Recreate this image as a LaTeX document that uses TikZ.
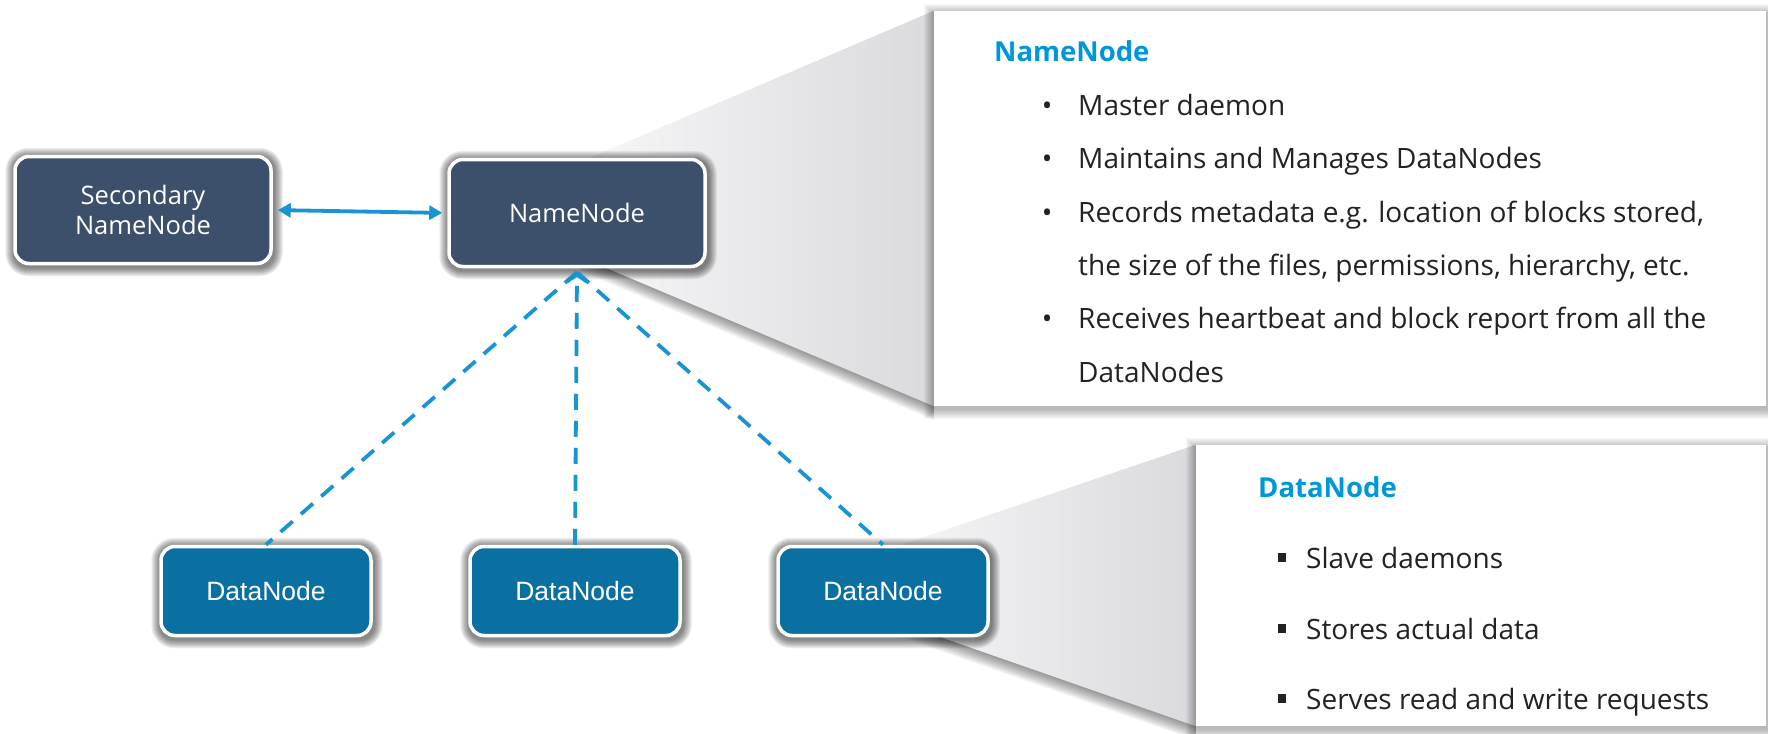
\documentclass[tikz,border=0pt]{standalone}
\usepackage{fontspec}
\setmainfont{Open Sans}
\newfontfamily\arialfont{Liberation Sans}
\usetikzlibrary{arrows.meta,calc}

\definecolor{nodeslate}{HTML}{3C4F6B}
\definecolor{nodeblue}{HTML}{0A6FA1}
\definecolor{linkblue}{HTML}{1A93D2}
\definecolor{titleblue}{HTML}{0097D9}
\definecolor{bodytext}{HTML}{222222}
\definecolor{fanlight}{HTML}{F7F7F8}
\definecolor{fandark}{HTML}{DADADE}

\pgfdeclarelayer{fan}
\pgfdeclarelayer{halo}
\pgfsetlayers{fan,halo,main}

\tikzset{
  box/.style={draw=white, line width=3.5pt, rounded corners=14pt, inner sep=0pt, text=white},
  namebox/.style={box, fill=nodeslate, minimum width=256pt, minimum height=107pt,
    font=\fontsize{25.5}{30}\selectfont, align=center},
  databox/.style={box, fill=nodeblue, minimum width=210pt, minimum height=89pt,
    font=\arialfont\fontsize{26.5}{30}\selectfont},
  card/.style={fill=white, inner sep=0pt},
  cardtitle/.style={anchor=base west, inner sep=0pt, text=titleblue,
    font=\bfseries\fontsize{27.5}{30}\selectfont},
  cardline/.style={anchor=base west, inner sep=0pt, text=bodytext,
    font=\fontsize{28}{30}\selectfont},
  dotbullet/.style={anchor=base, inner sep=0pt, text=bodytext,
    font=\fontsize{28}{30}\selectfont},
  heartbeat/.style={draw=linkblue, line width=3.8pt, dash pattern=on 16pt off 11pt},
  syncline/.style={draw=linkblue, line width=3.8pt,
    {Triangle[length=13pt,width=14pt]}-{Triangle[length=13pt,width=14pt]},
    shorten <=5pt, shorten >=5pt},
}

% soft dark glow round a rounded box
\newcommand\boxhalo[1]{%
  \foreach \i [evaluate=\i as \r using 14+\i] in {1,...,9}{%
    \fill[black, opacity=0.065, rounded corners=\r pt]
      ($(#1.north west)+(-\i+1,-\i+2)$) rectangle ($(#1.south east)+(\i+1,\i+2)$);
  }%
}
% light shadow round a detail card
\newcommand\cardhalo[1]{%
  \foreach \i in {1,...,10}{%
    \fill[black, opacity=0.032]
      ($(#1.north west)+(-\i,-\i+3)$) rectangle ($(#1.south east)+(\i,\i+3)$);
  }%
}
% grey fan joining a box to its card, with a shadow under its lower edge
\newcommand\fan[4]{%
  \foreach \i in {1,...,14}{%
    \fill[black, opacity=0.035] ($(#1)+(0,\i)$) -- ($(#2)+(0,\i)$) -- ($(#3)+(0,\i)$) -- ($(#4)+(0,\i)$) -- cycle;
  }%
  \shade[left color=fanlight, right color=fandark] (#1) -- (#2) -- (#3) -- (#4) -- cycle;
}

\begin{document}
\begin{tikzpicture}[x=1pt, y=-1pt]
\useasboundingbox (0,0) rectangle (1768,733);

% detail cards
\node[card, minimum width=832pt, minimum height=395pt] (topcard) at (1350,208.5) {};
\node[card, minimum width=570pt, minimum height=281pt] (botcard) at (1481,585.5) {};

% component boxes
\node[namebox] (sec) at (143,210) {Secondary\\NameNode};
\node[namebox] (nn)  at (577,213) {NameNode};
\node[databox] (dn1) at (266,591) {DataNode};
\node[databox] (dn2) at (575,591) {DataNode};
\node[databox] (dn3) at (883,591) {DataNode};

% fans
\coordinate (ta) at (580,162);
\coordinate (tb) at (topcard.north west);
\coordinate (tc) at (topcard.south west);
\coordinate (td) at (580,257);
\coordinate (ba) at (880,552);
\coordinate (bb) at (botcard.north west);
\coordinate (bc) at (botcard.south west);
\coordinate (bd) at (880,616);
\begin{pgfonlayer}{fan}
  \fan{ta}{tb}{tc}{td}
  \fan{ba}{bb}{bc}{bd}
\end{pgfonlayer}

\begin{pgfonlayer}{halo}
  \cardhalo{topcard}
  \cardhalo{botcard}
  \boxhalo{sec}
  \boxhalo{nn}
  \boxhalo{dn1}
  \boxhalo{dn2}
  \boxhalo{dn3}
\end{pgfonlayer}

% connectors
\draw[syncline] (sec.east) -- (nn.west);
\coordinate (apex) at ([yshift=-4pt]nn.south);
\draw[heartbeat, -{Straight Barb[length=7pt,width=20pt]}] (dn2.north) -- (apex);
\draw[heartbeat] (apex) -- (dn1.north);
\draw[heartbeat] (apex) -- (dn3.north);

% NameNode card text
\node[cardtitle] (nntitle) at (994,62) {NameNode};
\node[dotbullet] (nb1) at (1047,116) {•};
\node[dotbullet] (nb2) at (1047,168) {•};
\node[dotbullet] (nb3) at (1047,222) {•};
\node[dotbullet] (nb5) at (1047,328) {•};
\node[cardline] (nl1) at (1078,116) {Master daemon};
\node[cardline] (nl2) at (1078,168) {Maintains and Manages DataNodes};
\node[cardline] (nl3) at (1078,222) {Records metadata e.g. location of blocks stored,};
\node[cardline] (nl4) at (1078,275) {the size of the files, permissions, hierarchy, etc.};
\node[cardline] (nl5) at (1078,328) {Receives heartbeat and block report from all the};
\node[cardline] (nl6) at (1078,382) {DataNodes};

% DataNode card text
\node[cardtitle] (dntitle) at (1258,497) {DataNode};
\foreach \b in {568,639,709}{
  \fill[bodytext] (1278,\b-15) rectangle (1286,\b-6);
}
\node[cardline] (dl1) at (1306,568) {Slave daemons};
\node[cardline] (dl2) at (1306,639) {Stores actual data};
\node[cardline] (dl3) at (1306,709) {Serves read and write requests};
\end{tikzpicture}
\end{document}
